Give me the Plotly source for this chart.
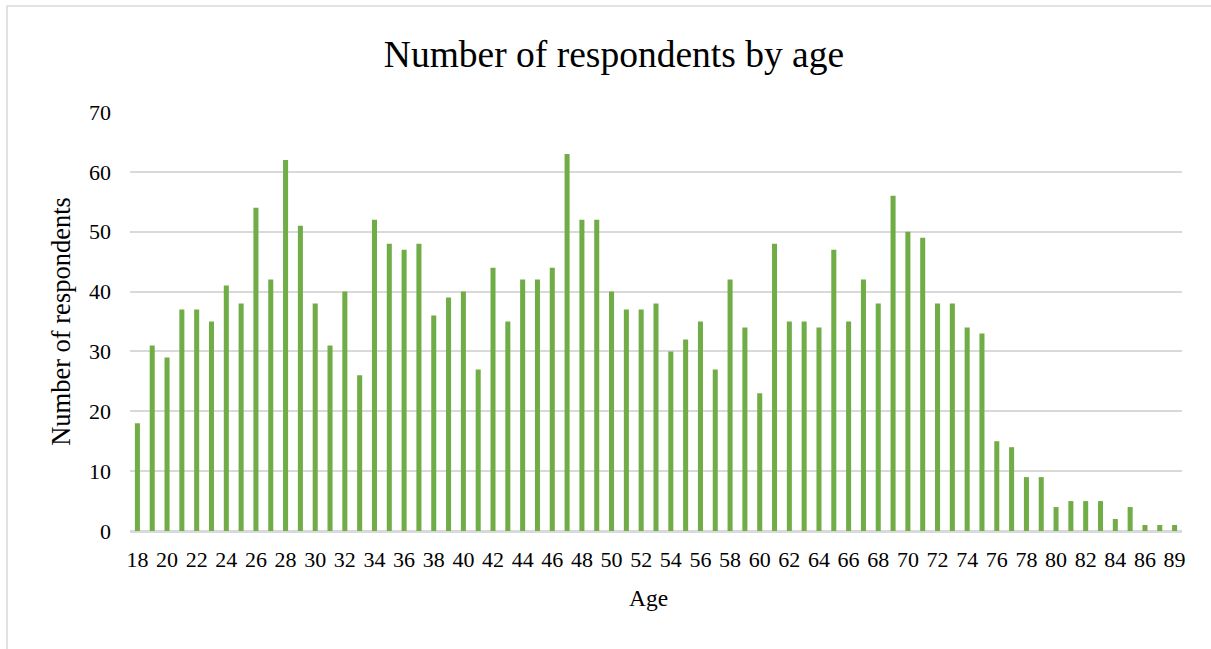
import plotly.graph_objects as go

# Ages surveyed (no respondents aged 88)
ages = [str(a) for a in range(18, 88)] + ["89"]

respondents = [
    18, 31, 29, 37, 37, 35, 41, 38, 54, 42,   # 18-27
    62, 51, 38, 31, 40, 26, 52, 48, 47, 48,   # 28-37
    36, 39, 40, 27, 44, 35, 42, 42, 44, 63,   # 38-47
    52, 52, 40, 37, 37, 38, 30, 32, 35, 27,   # 48-57
    42, 34, 23, 48, 35, 35, 34, 47, 35, 42,   # 58-67
    38, 56, 50, 49, 38, 38, 34, 33, 15, 14,   # 68-77
    9, 9, 4, 5, 5, 5, 2, 4, 1, 1,             # 78-87
    1,                                        # 89
]

y_ticks = [0, 10, 20, 30, 40, 50, 60, 70]
x_ticks = ages[::2]

W, H = 1211, 649
L, R, T, B = 130, 29, 112, 118
pw, ph = W - L - R, H - T - B

def px_x(x):
    return (x - L) / pw

def px_y(y):
    return (H - B - y) / ph

SERIF = "Liberation Serif, Times New Roman, serif"
GRID = "#d9d9d9"

fig = go.Figure(
    go.Bar(
        x=ages,
        y=respondents,
        marker=dict(color="#70AD47", line=dict(width=0)),
        hoverinfo="x+y",
    )
)

fig.update_layout(
    width=W,
    height=H,
    autosize=False,
    margin=dict(l=L, r=R, t=T, b=B),
    paper_bgcolor="white",
    plot_bgcolor="white",
    bargap=0.66,
    showlegend=False,
    font=dict(family=SERIF, color="#000000", size=22),
    title=dict(
        text="Number of respondents by age",
        font=dict(family=SERIF, size=37.5, color="#000000"),
        x=614 / W,
        xanchor="center",
        xref="container",
        y=1 - 54 / H,
        yanchor="middle",
        yref="container",
    ),
    xaxis=dict(
        type="category",
        tickmode="array",
        tickvals=x_ticks,
        ticktext=x_ticks,
        tickangle=0,
        showgrid=False,
        showline=True,
        linecolor=GRID,
        linewidth=1.5,
        ticks="",
        ticklabelstandoff=8,
        tickfont=dict(size=22),
    ),
    yaxis=dict(
        range=[0, 70],
        tickvals=y_ticks,
        showgrid=True,
        gridcolor=GRID,
        gridwidth=1.5,
        zeroline=True,
        zerolinecolor=GRID,
        zerolinewidth=1.5,
        showline=False,
        ticks="",
        ticklabelstandoff=18,
        tickfont=dict(size=22),
        title=dict(text="Number of respondents", font=dict(size=26.5), standoff=10),
    ),
    annotations=[
        dict(
            text="Age",
            xref="paper",
            yref="paper",
            x=px_x(648),
            y=px_y(598),
            xanchor="center",
            yanchor="middle",
            showarrow=False,
            font=dict(family=SERIF, size=23.5, color="#000000"),
        )
    ],
    shapes=[
        dict(
            type="rect",
            xref="paper",
            yref="paper",
            x0=px_x(7),
            x1=px_x(1220),
            y0=px_y(6),
            y1=px_y(660),
            line=dict(color=GRID, width=1.5),
            fillcolor="rgba(0,0,0,0)",
            layer="below",
        )
    ],
)

fig.write_html("out.html")
